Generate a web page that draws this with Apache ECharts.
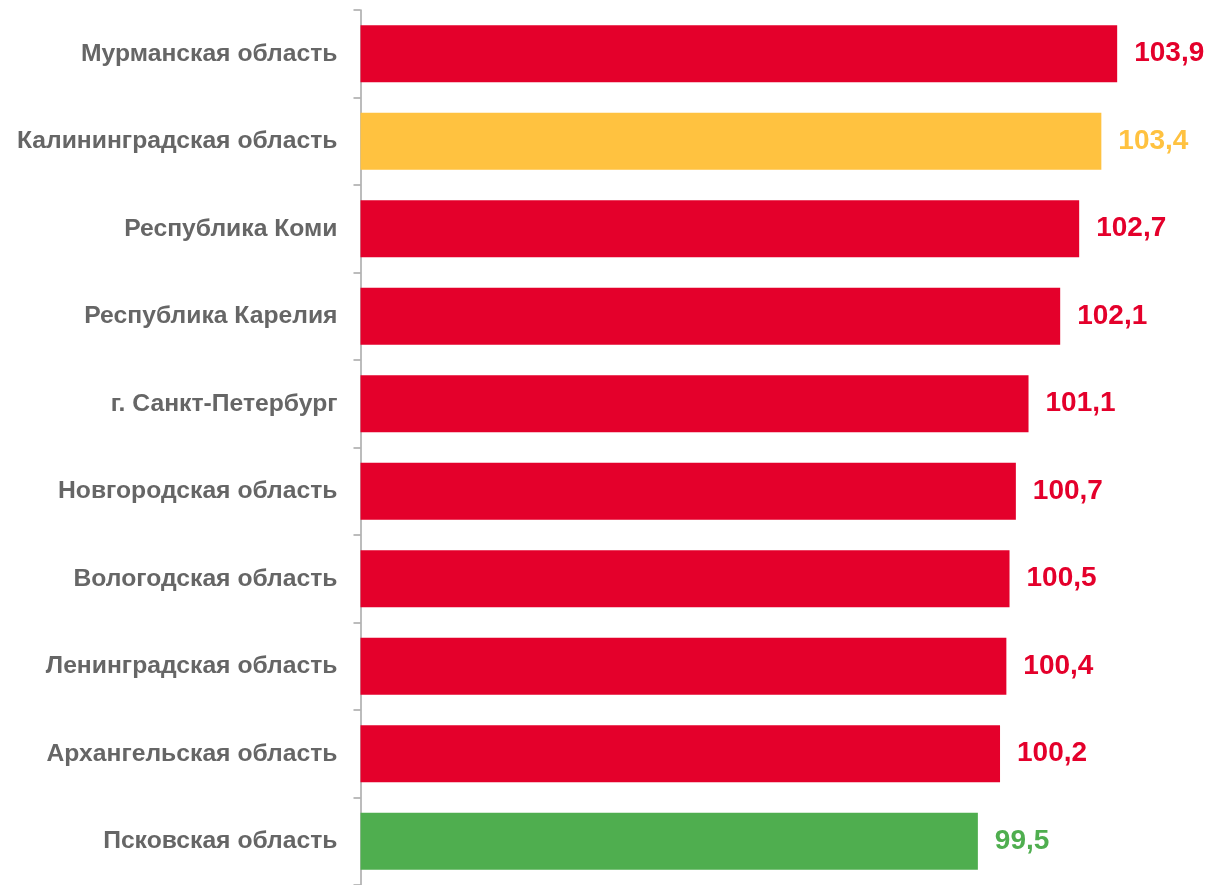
<!DOCTYPE html>
<html><head><meta charset="utf-8">
<script src="https://cdn.jsdelivr.net/npm/echarts@6/dist/echarts.min.js"></script>
<style>html,body{margin:0;padding:0;background:#fff;}#c{width:1210px;height:885px;}</style>
</head><body><div id="c"></div>
<script>
const categories = ["Мурманская область","Калининградская область","Республика Коми","Республика Карелия","г. Санкт-Петербург","Новгородская область","Вологодская область","Ленинградская область","Архангельская область","Псковская область"];
const values = [103.9,103.4,102.7,102.1,101.1,100.7,100.5,100.4,100.2,99.5];

const RED = "#E4002B", YELLOW = "#FFC240", GREEN = "#4FAE4F";
const specialColors = {"Калининградская область": YELLOW, "Псковская область": GREEN};
const colorOf = name => specialColors[name] || RED;

const chart = echarts.init(document.getElementById('c'), null, {renderer:'canvas'});
chart.setOption({
  animation:false,
  grid:{left:360.5, right:58, top:10, bottom:-5, containLabel:false},
  xAxis:{type:'value', min:80, max:105, show:false},
  yAxis:{type:'category', data:categories, inverse:true,
    axisLine:{show:true, lineStyle:{color:'#A6A6A6', width:1.5}},
    axisTick:{show:true, length:7, lineStyle:{color:'#A6A6A6', width:1.5}},
    axisLabel:{color:'#666666', fontFamily:'Liberation Sans, Arial, sans-serif', fontWeight:'bold', fontSize:24.7, margin:23}
  },
  series:[{
    type:'bar', barCategoryGap:'35%',
    data: categories.map((n,i)=>({value:values[i], itemStyle:{color:colorOf(n)},
      label:{color:colorOf(n)}})),
    label:{show:true, position:'right', distance:17,
      fontFamily:'Liberation Sans, Arial, sans-serif', fontWeight:'bold', fontSize:28,
      formatter:p=>p.value.toFixed(1).replace('.',',')}
  }]
});
</script></body></html>
